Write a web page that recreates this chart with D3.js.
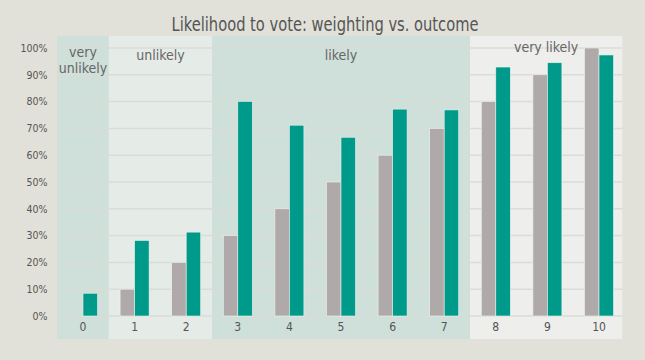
<!DOCTYPE html>
<html>
<head>
<meta charset="utf-8">
<script src="https://cdn.jsdelivr.net/npm/d3@7"></script>
<style>
  html, body { margin: 0; padding: 0; background: #e1e1d9; }
  svg { display: block; }
  text { font-family: "DejaVu Sans Condensed", "Liberation Sans Narrow", "Roboto", sans-serif; }
</style>
</head>
<body>
<svg id="chart" width="645" height="360"></svg>
<script>
const title = "Likelihood to vote: weighting vs. outcome";
const categories = ["0", "1", "2", "3", "4", "5", "6", "7", "8", "9", "10"];
const seriesNames = ["weighting", "outcome"];
const weighting = [0, 10, 20, 30, 40, 50, 60, 70, 80, 90, 100];
const outcome = [8.5, 28.2, 31.3, 80.1, 71.2, 66.7, 77.2, 76.9, 92.9, 94.5, 97.4];
const yTicks = [0, 10, 20, 30, 40, 50, 60, 70, 80, 90, 100];
const groupNames = [["very", "unlikely"], ["unlikely"], ["likely"], ["very likely"]];
const groupFirst = ["0", "1", "3", "8"];
const groupLast = ["0", "2", "7", "10"];

const svg = d3.select("#chart");
const FONT = '"DejaVu Sans Condensed", "Liberation Sans Narrow", sans-serif';
const bandTop = 36, bandBottom = 339;

const x = d3.scaleBand().domain(categories).range([57.2, 624.8]).padding(0);
const step = x.step();
const xs = d3.scaleBand().domain(seriesNames).range([-14.5, 14.5]).padding(0);
const y = d3.scaleLinear().domain([0, 100]).range([316, 48]);

const bandColors = ["#cfdfd9", "#e5ebe6", "#cfdfd9", "#eeeeec"];

function bandEdges(i) {
  const x0 = x(groupFirst[i]);
  let x1 = x(groupLast[i]) + step;
  if (i === groupNames.length - 1) x1 = Math.min(x1, 622.3);
  return [x0, x1];
}

// background bands
const bands = svg.append("g");
groupNames.forEach((g, i) => {
  const [x0, x1] = bandEdges(i);
  bands.append("rect")
    .attr("x", x0).attr("y", bandTop)
    .attr("width", x1 - x0).attr("height", bandBottom - bandTop)
    .attr("fill", bandColors[i]);
});

// gridlines
svg.append("g").selectAll("line").data(yTicks).join("line")
  .attr("x1", 57.2).attr("x2", 622.3)
  .attr("y1", d => y(d)).attr("y2", d => y(d))
  .attr("stroke", "#d9ddd8").attr("stroke-width", 1.5);

// group labels
groupNames.forEach((g, i) => {
  const [x0, x1] = bandEdges(i);
  const cx = (x0 + x1) / 2;
  const t = svg.append("text")
    .attr("text-anchor", "middle")
    .attr("fill", "#666")
    .attr("font-size", 14);
  const baseY = g.length > 1 ? 56.5 : (i === 3 ? 52 : 59.5);
  g.forEach((line, j) => {
    t.append("tspan").attr("x", cx).attr("y", baseY + j * 16.5).text(line);
  });
});

// bars
const data = categories.map((c, i) => ({ c, weighting: weighting[i], outcome: outcome[i] }));
const colors = { weighting: "#afaaa9", outcome: "#009a8a" };
const barG = svg.append("g");
data.forEach(d => {
  seriesNames.forEach(s => {
    if (d[s] <= 0) return;
    barG.append("rect")
      .attr("x", x(d.c) + step / 2 + xs(s))
      .attr("y", y(d[s]))
      .attr("width", xs.bandwidth())
      .attr("height", y(0) - y(d[s]))
      .attr("fill", colors[s])
      .attr("stroke", "#eef2ee")
      .attr("stroke-width", 0.6);
  });
});

// y axis
const yAxis = d3.axisLeft(y).tickValues(yTicks).tickFormat(d => d + "%").tickSize(0).tickPadding(0);
const yg = svg.append("g").attr("transform", "translate(47.5,0)").call(yAxis);
yg.select(".domain").remove();
yg.selectAll("text").attr("fill", "#555").attr("font-size", 10.5).style("font-family", FONT);

// x axis
const xAxis = d3.axisBottom(x).tickSize(0).tickPadding(0);
const xg = svg.append("g").attr("transform", "translate(0,322)").call(xAxis);
xg.select(".domain").remove();
xg.selectAll("text").attr("fill", "#555").attr("font-size", 12).style("font-family", FONT);

// title
svg.append("text")
  .attr("x", 325).attr("y", 30.5)
  .attr("text-anchor", "middle")
  .attr("fill", "#555")
  .attr("font-size", 19)
  .attr("textLength", 307)
  .attr("lengthAdjust", "spacingAndGlyphs")
  .text(title);
</script>
</body>
</html>
